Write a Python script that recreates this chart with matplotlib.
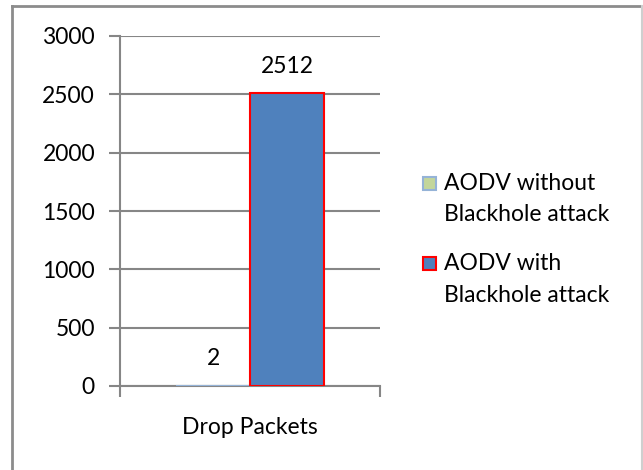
import matplotlib.pyplot as plt
from matplotlib.patches import Rectangle
from matplotlib.lines import Line2D

categories = ['Drop Packets']
series_names = [['AODV without', 'Blackhole attack'], ['AODV with', 'Blackhole attack']]
series_values = [2, 2512]
y_ticks = [0, 500, 1000, 1500, 2000, 2500, 3000]

face_colors = ['#C3D69B', '#4F81BD']
edge_colors = ['#95B3D7', '#FF0000']
grid_color = '#868686'

plt.rcParams['font.family'] = ['Lato', 'DejaVu Sans']
FS = 16.5

W, H = 643, 470
fig = plt.figure(figsize=(W / 100, H / 100), dpi=100)

# outer chart frame
fig.add_artist(Line2D([12 / W, 12 / W], [0, 1 - 6 / H], color='#8c8c8c', lw=2))
fig.add_artist(Line2D([12 / W, 642 / W], [1 - 6 / H, 1 - 6 / H], color='#8c8c8c', lw=2))
fig.add_artist(Line2D([641.5 / W, 641.5 / W], [0, 1 - 6 / H], color='#cfcfcf', lw=1.5))

ax = fig.add_axes([120 / W, 1 - 386 / H, 260 / W, 350 / H])

width = 1.0
offsets = [-0.5, 0.5]
for i, (val, off) in enumerate(zip(series_values, offsets)):
    ax.bar(off, val, width=width, color=face_colors[i], edgecolor=edge_colors[i],
           linewidth=1.5, zorder=3)
    ax.text(off, val + 140, str(val), ha='center', va='bottom', fontsize=FS)

ax.set_xlim(-1.757, 1.757)
ax.set_ylim(0, 3000)
ax.set_yticks(y_ticks)
ax.set_yticklabels([str(t) for t in y_ticks], fontsize=FS)
ax.yaxis.grid(True, color=grid_color, linewidth=1.5, zorder=0)

for s in ['top', 'right']:
    ax.spines[s].set_visible(False)
ax.spines['left'].set_color(grid_color)
ax.spines['left'].set_linewidth(1.5)
ax.spines['bottom'].set_color(grid_color)
ax.spines['bottom'].set_linewidth(1.5)
ax.tick_params(axis='y', length=8, width=1.5, color=grid_color, pad=10)

# x ticks only at the category edges; category name under the middle
ax.set_xticks([-1.757, 1.757])
ax.set_xticklabels(['', ''])
ax.tick_params(axis='x', length=8, width=1.5, color=grid_color, direction='out')
ax.text(0, -0.09, categories[0], transform=ax.get_xaxis_transform(),
        ha='center', va='top', fontsize=FS)

# legend: square swatch next to a two-line label
entry_y = [183, 263]
line_gap = 32
for i, y in enumerate(entry_y):
    fig.add_artist(Rectangle((423 / W, 1 - (y + 6.5) / H), 13 / W, 13 / H,
                             transform=fig.transFigure, facecolor=face_colors[i],
                             edgecolor=edge_colors[i], linewidth=1.5))
    for j, line in enumerate(series_names[i]):
        fig.text(444 / W, 1 - (y + j * line_gap) / H, line, ha='left',
                 va='center', fontsize=FS)

fig.savefig('out.png', dpi=100, facecolor='white')
